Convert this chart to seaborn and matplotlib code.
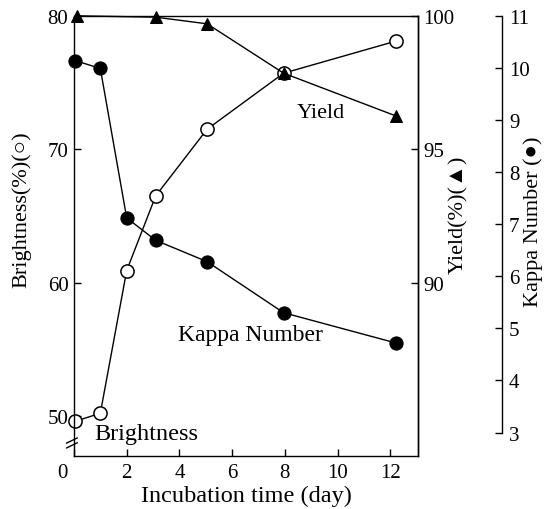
import matplotlib
matplotlib.use("Agg")
import matplotlib.pyplot as plt
import matplotlib.transforms as mtransforms
import seaborn as sns

# ---- data ----
days = [0.05, 1.0, 2.0, 3.1, 5.05, 7.95, 12.2]
brightness = [49.6, 50.2, 60.9, 66.5, 71.5, 75.7, 78.1]
kappa = [10.14, 9.99, 7.12, 6.69, 6.28, 5.30, 4.72]
yield_days = [0.1, 3.1, 5.05, 7.95, 12.2]
yield_pct = [100.0, 99.95, 99.7, 97.85, 96.25]

x_ticks = [0, 2, 4, 6, 8, 10, 12]
brightness_ticks = [50, 60, 70, 80]
yield_ticks = [90, 95, 100]
kappa_ticks = [3, 4, 5, 6, 7, 8, 9, 10, 11]

sns.set_theme(style="white", rc={
    "axes.edgecolor": "black", "text.color": "black",
    "xtick.color": "black", "ytick.color": "black",
    "axes.labelcolor": "black", "axes.linewidth": 1.0,
})
plt.rcParams["font.family"] = ["Liberation Serif", "DejaVu Sans"]

fig = plt.figure(figsize=(5.56, 5.1), dpi=100)
ax = fig.add_axes([0.133, 0.104, 0.619, 0.863])
ax2 = ax.twinx()
ax3 = ax.twinx()

line_kw = dict(color="black", linewidth=1.0, clip_on=False)
sns.lineplot(x=days, y=brightness, ax=ax, marker="o", markersize=9.5,
             markerfacecolor="white", markeredgecolor="black",
             markeredgewidth=1.1, **line_kw)
sns.lineplot(x=yield_days, y=yield_pct, ax=ax2, marker="^", markersize=8.5,
             markerfacecolor="black", markeredgecolor="black", **line_kw)
sns.lineplot(x=days, y=kappa, ax=ax3, marker="o", markersize=9.5,
             markerfacecolor="black", markeredgecolor="black", **line_kw)

ax.set_xlim(0, 13.05)
ax.set_ylim(47, 80)
ax2.set_ylim(83.5, 100)
ax3.set_ylim(2.55, 11)

ax.set_xticks(x_ticks)
ax.set_yticks(brightness_ticks)
ax2.set_yticks(yield_ticks)
ax3.set_yticks(kappa_ticks)

ax.tick_params(axis="x", bottom=True, top=False, direction="in", length=5,
               width=1, labelsize=15, pad=5)
ax.tick_params(axis="y", left=True, right=False, direction="in", length=5,
               width=1, labelsize=15, pad=4)
ax2.tick_params(axis="y", right=True, left=False, direction="in", length=5,
                width=1, labelsize=15, pad=4)
ax3.tick_params(axis="y", right=True, left=False, direction="in", length=5,
                width=1, labelsize=15, pad=5)

for s in ["top", "left", "bottom"]:
    ax3.spines[s].set_visible(False)
ax3.spines["right"].set_position(("axes", 1.244))
ax3.spines["right"].set_bounds(3, 11)
for s in ["top", "left", "bottom", "right"]:
    ax2.spines[s].set_visible(s == "right")

# shift the "0" tick label left, as in the reference
lab0 = ax.get_xticklabels()[0]
lab0.set_transform(lab0.get_transform() +
                   mtransforms.ScaledTranslation(-0.12, 0, fig.dpi_scale_trans))

# axis break mark on the left spine
for dy in (0.0, 0.011):
    ax.plot([-0.022, 0.01], [0.018 + dy, 0.03 + dy], transform=ax.transAxes,
            color="black", lw=1.0, clip_on=False)

ax.set_xlabel("Incubation time (day)", fontsize=17.5, labelpad=2)
ax.set_ylabel("Brightness(%)(○)", fontsize=16)
ax.yaxis.label.set(ha="center", va="center", rotation_mode="anchor")
ax.yaxis.set_label_coords(-0.151, 0.561)

ax2.set_ylabel("Yield(%)(▲)", fontsize=16, rotation=90)
ax2.yaxis.label.set(ha="center", va="center", rotation_mode="anchor")
ax2.yaxis.set_label_coords(1.118, 0.55)

ax3.set_ylabel("Kappa Number (●)", fontsize=16, rotation=90)
ax3.yaxis.label.set(ha="center", va="center", rotation_mode="anchor")
ax3.yaxis.set_label_coords(1.334, 0.534)

ax.text(0.718, 0.78, "Yield", transform=ax.transAxes, ha="center",
        va="center", fontsize=16)
ax.text(0.512, 0.275, "Kappa Number", transform=ax.transAxes, ha="center",
        va="center", fontsize=17)
ax.text(0.209, 0.05, "Brightness", transform=ax.transAxes, ha="center",
        va="center", fontsize=17.5)

fig.savefig("out.png", dpi=100)
